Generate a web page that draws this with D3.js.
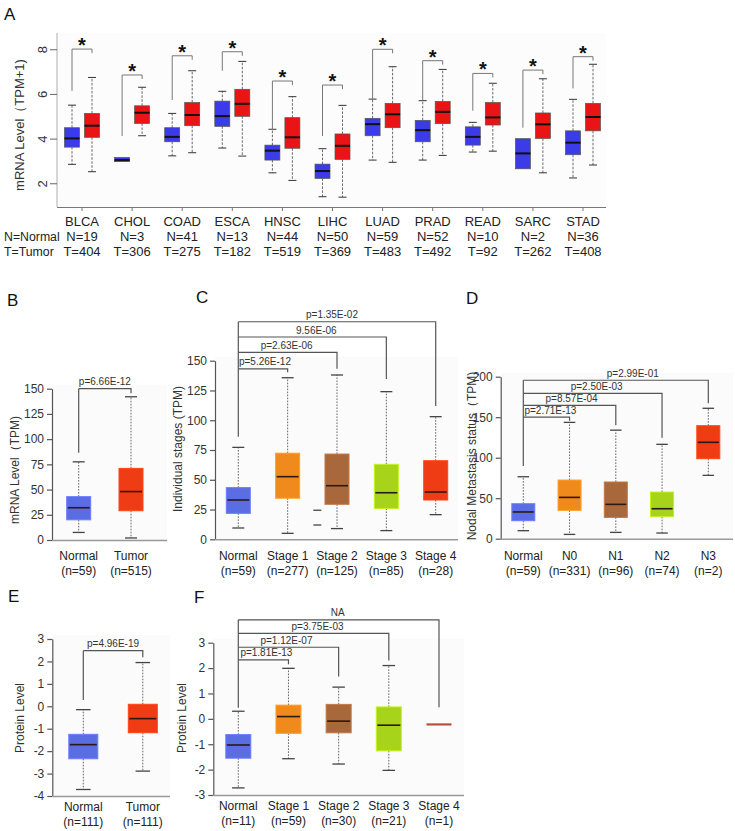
<!DOCTYPE html>
<html><head><meta charset="utf-8">
<script src="https://cdn.jsdelivr.net/npm/d3@7"></script>
<style>body{margin:0;background:#fff}svg{display:block;font-family:"Liberation Sans",Arial,sans-serif}</style>
</head><body><svg id="c" width="735" height="831"></svg>
<script>
// ---------- DATA ----------
// Panel A: pan-cancer mRNA (TPM+1), stats = [min, q1, median, q3, max]
const catsA = ["BLCA","CHOL","COAD","ESCA","HNSC","LIHC","LUAD","PRAD","READ","SARC","STAD"];
const nNormalA = [19,3,41,13,44,50,59,52,10,2,36];
const nTumorA = [404,306,275,182,519,369,483,492,92,262,408];
const normalA = [[2.87,3.64,4.03,4.51,5.52],[2.99,2.99,3.06,3.18,3.18],[3.25,3.88,4.1,4.51,5.15],[3.6,4.57,5.03,5.7,6.14],
  [2.49,3.06,3.48,3.73,4.44],[1.42,2.24,2.57,2.88,3.57],[3.06,4.15,4.67,4.93,5.79],[3.06,3.88,4.4,4.84,5.72],
  [3.42,3.73,4.1,4.55,4.75],[2.67,2.67,3.36,4.02,4.02],[2.26,3.3,3.84,4.37,5.78]];
const tumorA = [[2.54,4.08,4.6,5.15,6.76],[4.15,4.7,5.18,5.49,6.32],[3.39,4.6,5.08,5.64,7.06],[3.24,5.02,5.58,6.23,7.48],
  [2.15,3.59,4.08,4.96,5.9],[1.4,3.09,3.7,4.23,5.51],[2.96,4.51,5.11,5.6,7.24],[3.27,4.69,5.22,5.69,7.12],
  [3.46,4.63,4.97,5.64,6.5],[2.49,4.03,4.66,5.17,6.7],[2.84,4.37,4.99,5.6,7.35]];
const sigTopA = [8.03,6.87,7.73,7.91,6.6,6.42,8.02,7.51,6.94,7.09,7.69];
const sigLegA = [6.16,4.14,5.75,7.06,4.4,4.14,5.79,5.75,5.27,4.51,6.27];
const ticksA = [2,4,6,8];

// Panel B
const catsB = ["Normal","Tumor"]; const nB = ["(n=59)","(n=515)"];
const statsB = [[7.5,20,32,43,77.5],[2,29,48,71,142]];
const ticksB = [0,25,50,75,100,125,150];
const pB = ["p=6.66E-12"], levB = [150], rightB = [145.4], leftB = 86.5;

// Panel C
const catsC = ["Normal","Stage 1","Stage 2","Stage 3","Stage 4"]; const nC = ["(n=59)","(n=277)","(n=125)","(n=85)","(n=28)"];
const statsC = [[9.5,21.8,33,43.4,77.2],[5,34.5,52.6,72.3,135.7],[9,29.4,45,71.6,138],[7.3,25.9,39.1,63,124],[20.7,33,39.7,66,103]];
const outliersC = [[2,24.4],[2,12]];
const ticksC = [0,25,50,75,100,125,150];
const pC = ["p=5.26E-12","p=2.63E-06","9.56E-06","p=1.35E-02"], levC = [143.2,157,169.9,182.7], rightC = [140.2,143.2,134.6,111.9], leftC = 86.1;

// Panel D
const catsD = ["Normal","N0","N1","N2","N3"]; const nD = ["(n=59)","(n=331)","(n=96)","(n=74)","(n=2)"];
const statsD = [[9.9,22.2,33,43.2,76.5],[5.3,35,51,72.4,143.6],[7.8,26.3,42.4,70,134],[7,27.2,37,57.6,116.5],[78.2,98.8,119,139.5,161]];
const ticksD = [0,50,100,150,200];
const pD = ["p=2.71E-13","p=8.57E-04","p=2.50E-03","p=2.99E-01"], levD = [150.2,164.7,179.5,195.6], rightD = [145.7,140,124.7,167.2], leftD = 89.8;

// Panel E
const catsE = ["Normal","Tumor"]; const nE = ["(n=111)","(n=111)"];
const statsE = [[-3.71,-2.34,-1.71,-1.25,-0.15],[-2.89,-1.18,-0.55,0.09,1.95]];
const ticksE = [-4,-3,-2,-1,0,1,2,3];
const pE = ["p=4.96E-19"], levE = [2.48], rightE = [2.19], leftE = 0.28;

// Panel F
const catsF = ["Normal","Stage 1","Stage 2","Stage 3","Stage 4"]; const nF = ["(n=11)","(n=59)","(n=30)","(n=21)","(n=1)"];
const statsF = [[-2.72,-1.55,-1.03,-0.62,0.3],[-1.57,-0.57,0.09,0.54,1.99],[-1.78,-0.55,-0.09,0.57,1.25],[-2.03,-1.26,-0.25,0.47,2.1],[-0.22,-0.22,-0.22,-0.22,-0.22]];
const ticksF = [-3,-2,-1,0,1,2,3];
const pF = ["p=1.81E-13","p=1.12E-07","p=3.75E-03","NA"], levF = [2.32,2.82,3.37,3.9], rightF = [2.15,1.67,2.3,0.46], leftF = 0.44;

// ---------- STYLE ----------
const C_N = "#5b6de3", C_T = "#f03c14", C_S1 = "#f08a1d", C_S2 = "#a9683b", C_S3 = "#a8d31b", C_S4 = "#f03c14";

const svg = d3.select("#c");

// ---------- PANEL A ----------
(function(){
  const g = svg.append("g");
  const y = d3.scaleLinear().domain([0.96,8.75]).range([207,33]);
  const x = d3.scalePoint().domain(catsA).range([82,583]);
  const L = 57, R = 606;
  g.append("rect").attr("x",L).attr("y",33).attr("width",R-L).attr("height",174).attr("fill","#fcfcfc");
  g.append("line").attr("x1",L).attr("x2",L).attr("y1",33).attr("y2",207).attr("stroke","#999").attr("stroke-width",0.8);
  g.append("line").attr("x1",L).attr("x2",R).attr("y1",207.5).attr("y2",207.5).attr("stroke","#777").attr("stroke-width",1.2);
  ticksA.forEach(t=>{
    g.append("line").attr("x1",L-7).attr("x2",L).attr("y1",y(t)).attr("y2",y(t)).attr("stroke","#666");
    g.append("text").attr("transform",`translate(47,${y(t)}) rotate(-90)`).attr("text-anchor","middle")
      .attr("font-size",13).attr("fill","#333").text(t);
  });
  catsA.forEach(c=>{
    g.append("line").attr("x1",x(c)).attr("x2",x(c)).attr("y1",207).attr("y2",211).attr("stroke","#777");
  });
  g.append("text").attr("transform","translate(24,125) rotate(-90)").attr("text-anchor","middle")
    .attr("font-size",13).attr("fill","#333").text("mRNA Level（TPM+1)");
  function box(cx, s, fill){
    const w = 15, cw = 8;
    g.append("line").attr("x1",cx).attr("x2",cx).attr("y1",y(s[3])).attr("y2",y(s[4])).attr("stroke","#444").attr("stroke-width",0.8).attr("stroke-dasharray","2.5,1.5");
    g.append("line").attr("x1",cx).attr("x2",cx).attr("y1",y(s[1])).attr("y2",y(s[0])).attr("stroke","#444").attr("stroke-width",0.8).attr("stroke-dasharray","2.5,1.5");
    if (s[4]>s[3]) g.append("line").attr("x1",cx-cw/2).attr("x2",cx+cw/2).attr("y1",y(s[4])).attr("y2",y(s[4])).attr("stroke","#333");
    if (s[0]<s[1]) g.append("line").attr("x1",cx-cw/2).attr("x2",cx+cw/2).attr("y1",y(s[0])).attr("y2",y(s[0])).attr("stroke","#333");
    g.append("rect").attr("x",cx-w/2).attr("y",y(s[3])).attr("width",w).attr("height",y(s[1])-y(s[3]))
      .attr("fill",fill).attr("stroke","#555").attr("stroke-width",0.7);
    g.append("line").attr("x1",cx-w/2).attr("x2",cx+w/2).attr("y1",y(s[2])).attr("y2",y(s[2])).attr("stroke","#111").attr("stroke-width",2);
  }
  catsA.forEach((c,i)=>{
    const xn = x(c)-10, xt = x(c)+10;
    box(xn, normalA[i], "#3b3bea");
    box(xt, tumorA[i], "#ea1414");
    const yt = y(sigTopA[i]);
    g.append("path").attr("d",`M${xn},${y(sigLegA[i])}V${yt}H${xt}V${yt+4}`).attr("fill","none").attr("stroke","#777").attr("stroke-width",1);
    g.append("text").attr("x",(xn+xt)/2).attr("y",yt+3).attr("text-anchor","middle").attr("font-size",20).attr("font-weight","bold").attr("fill","#111").text("*");
    g.append("text").attr("x",x(c)).attr("y",226).attr("text-anchor","middle").attr("font-size",13).attr("fill","#222").text(c);
    g.append("text").attr("x",x(c)).attr("y",241).attr("text-anchor","middle").attr("font-size",13).attr("fill","#222").text("N="+nNormalA[i]);
    g.append("text").attr("x",x(c)).attr("y",256).attr("text-anchor","middle").attr("font-size",13).attr("fill","#222").text("T="+nTumorA[i]);
  });
  g.append("text").attr("x",4).attr("y",241).attr("font-size",12.3).attr("fill","#222").text("N=Normal");
  g.append("text").attr("x",4).attr("y",256).attr("font-size",12.3).attr("fill","#222").text("T=Tumor");
})();

// ---------- GENERIC PANEL ----------
function panel(cfg){
  const g = svg.append("g");
  const y = d3.scaleLinear().domain(cfg.domain).range(cfg.range);
  const x = d3.scalePoint().domain(cfg.cats).range(cfg.xRange);
  const yTop = y(cfg.domain[1]), yBot = y(cfg.domain[0]);
  g.append("rect").attr("x",cfg.axisX).attr("y",yTop-4).attr("width",cfg.rightX-cfg.axisX).attr("height",yBot-yTop+4).attr("fill","#fbfbfb");
  const ax = d3.axisLeft(y).tickValues(cfg.ticks).tickSize(5).tickSizeOuter(0).tickPadding(3).tickFormat(d=>String(d));
  const axg = g.append("g").attr("transform",`translate(${cfg.axisX},0)`).call(ax);
  axg.select(".domain").attr("stroke","#555").attr("stroke-width",1.2);
  axg.selectAll(".tick line").attr("stroke","#555").attr("stroke-width",1.2);
  axg.selectAll(".tick text").attr("font-size",12).attr("fill","#333").attr("font-family",'"Liberation Sans",Arial,sans-serif');
  g.append("line").attr("x1",cfg.axisX).attr("x2",cfg.rightX).attr("y1",yBot+0.5).attr("y2",yBot+0.5).attr("stroke","#999").attr("stroke-width",1.4);
  g.append("text").attr("transform",`translate(${cfg.ylabX},${cfg.ylabY}) rotate(-90)`).attr("text-anchor","middle")
    .attr("dominant-baseline","central").attr("font-size",12).attr("fill","#333").text(cfg.ylabel);
  const w = cfg.boxW, cw = w*0.5;
  cfg.stats.forEach((s,i)=>{
    const cx = x(cfg.cats[i]);
    if (s[3]===s[1]) {
      g.append("line").attr("x1",cx-w/2).attr("x2",cx+w/2).attr("y1",y(s[2])).attr("y2",y(s[2])).attr("stroke",cfg.lineColor||"#b5523b").attr("stroke-width",2.2);
    } else {
      g.append("line").attr("x1",cx).attr("x2",cx).attr("y1",y(s[3])).attr("y2",y(s[4])).attr("stroke","#666").attr("stroke-width",1).attr("stroke-dasharray","1.6,1.4");
      g.append("line").attr("x1",cx).attr("x2",cx).attr("y1",y(s[1])).attr("y2",y(s[0])).attr("stroke","#666").attr("stroke-width",1).attr("stroke-dasharray","1.6,1.4");
      [s[0],s[4]].forEach(v=>g.append("line").attr("x1",cx-cw/2).attr("x2",cx+cw/2).attr("y1",y(v)).attr("y2",y(v)).attr("stroke","#444").attr("stroke-width",1.3));
      g.append("rect").attr("x",cx-w/2).attr("y",y(s[3])).attr("width",w).attr("height",y(s[1])-y(s[3]))
        .attr("fill",cfg.colors[i]).attr("stroke",d3.color(cfg.colors[i]).brighter(0.4)).attr("stroke-width",1);
      g.append("line").attr("x1",cx-w/2+1).attr("x2",cx+w/2-1).attr("y1",y(s[2])).attr("y2",y(s[2])).attr("stroke","#2a1a12").attr("stroke-width",1.6);
    }
    g.append("text").attr("x",cx).attr("y",cfg.labY).attr("text-anchor","middle").attr("font-size",12).attr("fill","#222").text(cfg.cats[i]);
    g.append("text").attr("x",cx).attr("y",cfg.labY+14.5).attr("text-anchor","middle").attr("font-size",12).attr("fill","#222").text(cfg.ns[i]);
  });
  (cfg.outliers||[]).forEach(o=>{
    const cx = x(cfg.cats[o[0]]) - cfg.boxW*0.82;
    g.append("line").attr("x1",cx-4).attr("x2",cx+4).attr("y1",y(o[1])).attr("y2",y(o[1])).attr("stroke","#444").attr("stroke-width",1.3);
  });
  // brackets
  const x0 = x(cfg.cats[0]);
  const topLev = d3.max(cfg.levels);
  g.append("line").attr("x1",x0).attr("x2",x0).attr("y1",y(cfg.leftLeg)).attr("y2",y(topLev)).attr("stroke","#555").attr("stroke-width",1.2);
  cfg.levels.forEach((lv,i)=>{
    const xi = x(cfg.cats[i+1]);
    g.append("path").attr("d",`M${x0},${y(lv)}H${xi}V${y(cfg.rights[i])}`).attr("fill","none").attr("stroke","#555").attr("stroke-width",1.2);
    const dx = cfg.labDx ? cfg.labDx[i] : 0;
    g.append("text").attr("x",(x0+xi)/2+dx).attr("y",y(lv)-3.5).attr("text-anchor","middle").attr("font-size",10).attr("fill","#333").text(cfg.plabels[i]);
  });
}

panel({cats:catsB, ns:nB, stats:statsB, colors:[C_N,C_T], domain:[0,150], range:[540,388.7], xRange:[78.7,131],
  ticks:ticksB, axisX:52, rightX:167, boxW:24, labY:560, ylabel:"mRNA Level（TPM)", ylabX:15, ylabY:470,
  levels:levB, rights:rightB, leftLeg:leftB, plabels:pB});
panel({cats:catsC, ns:nC, stats:statsC, colors:[C_N,C_S1,C_S2,C_S3,C_S4], domain:[0,150], range:[539.3,360.7], xRange:[238.3,435.7],
  ticks:ticksC, axisX:215, rightX:458, boxW:24, labY:560, ylabel:"Individual stages (TPM)", ylabX:178, ylabY:449,
  levels:levC, rights:rightC, leftLeg:leftC, plabels:pC, outliers:outliersC, labDx:[2,-1,4,-5]});
panel({cats:catsD, ns:nD, stats:statsD, colors:[C_N,C_S1,C_S2,C_S3,C_S4], domain:[0,200], range:[538.7,376.7], xRange:[523.3,708.3],
  ticks:ticksD, axisX:500.7, rightX:733, boxW:23, labY:560, ylabel:"Nodal Metastasis status（TPM)", ylabX:472, ylabY:456,
  levels:levD, rights:rightD, leftLeg:leftD, plabels:pD, labDx:[4,2,4,17]});
panel({cats:catsE, ns:nE, stats:statsE, colors:[C_N,C_T], domain:[-4,3], range:[796,639], xRange:[83.3,142.8],
  ticks:ticksE, axisX:52.3, rightX:170, boxW:29, labY:811, ylabel:"Protein Level", ylabX:20, ylabY:718,
  levels:levE, rights:rightE, leftLeg:leftE, plabels:pE});
panel({cats:catsF, ns:nF, stats:statsF, colors:[C_N,C_S1,C_S2,C_S3,"#b5523b"], domain:[-3,3], range:[795,642.7], xRange:[238.3,439],
  ticks:ticksF, axisX:213.3, rightX:464, boxW:25, labY:810, ylabel:"Protein Level", ylabX:182, ylabY:718,
  levels:levF, rights:rightF, leftLeg:leftF, plabels:pF, lineColor:"#b5523b", labDx:[3,-2,4,-1]});

// panel letters
[["A",4,20],["B",7,306],["C",196,303],["D",466,304],["E",8,602],["F",194,603]].forEach(d=>{
  svg.append("text").attr("x",d[1]).attr("y",d[2]).attr("font-size",17).attr("fill","#111").text(d[0]);
});
</script></body></html>
